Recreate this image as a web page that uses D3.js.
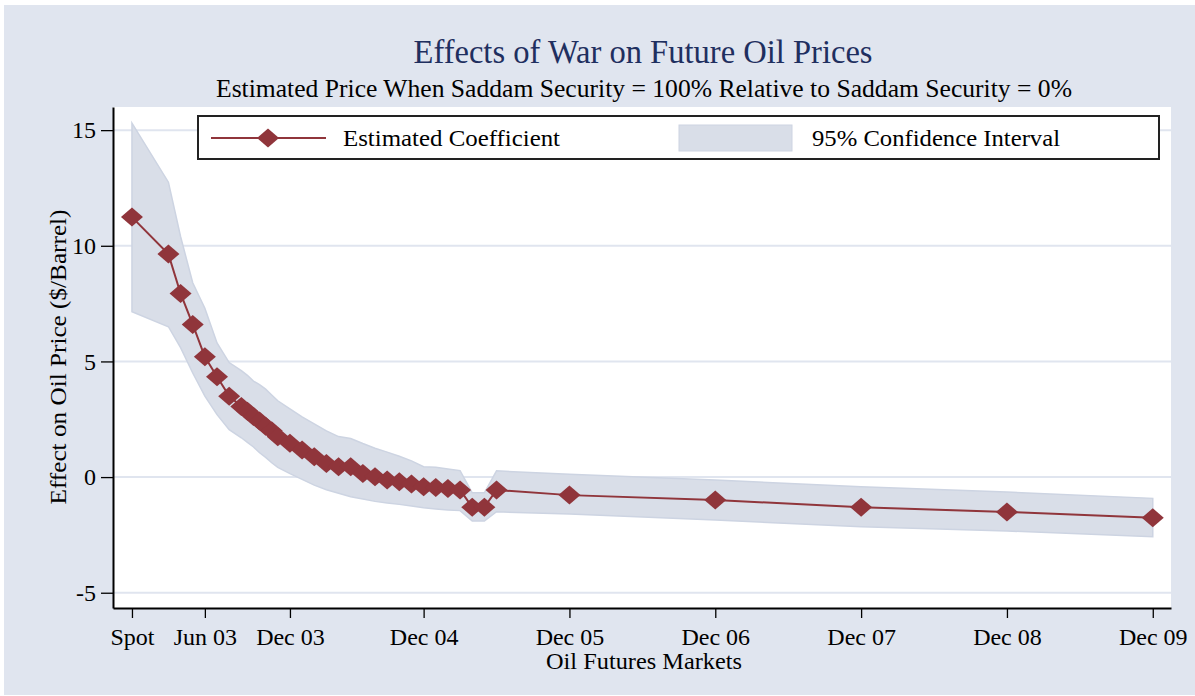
<!DOCTYPE html>
<html>
<head>
<meta charset="utf-8">
<script src="https://cdn.jsdelivr.net/npm/d3@7"></script>
<style>
  body { margin: 0; background: #fff; }
  svg text { font-family: "Liberation Serif", "Times New Roman", serif; }
</style>
</head>
<body>
<svg id="chart" width="1195" height="696"></svg>
<script>
// Section for Data

// months after spot (the x position of each futures contract)
var months = [0, 3, 4, 5, 6, 7, 8, 9, 9.5, 10, 10.5, 11, 11.5, 12, 13, 14, 15, 16, 17, 18,
    19, 20, 21, 22, 23, 24, 25, 26, 27, 28, 29, 30, 36, 48, 60, 72, 84];

var coef = [11.24, 9.64, 7.94, 6.6, 5.2, 4.34, 3.5, 3.05, 2.85, 2.62, 2.42, 2.2, 2.0, 1.74,
    1.46, 1.17, 0.88, 0.59, 0.45, 0.45, 0.16, 0.01, -0.13, -0.2, -0.3, -0.42, -0.45, -0.49,
    -0.56, -1.3, -1.3, -0.56, -0.78, -0.99, -1.3, -1.51, -1.76];

var upper = [15.3, 12.75, 10.4, 8.4, 7.3, 5.8, 4.95, 4.6, 4.4, 4.15, 4.0, 3.8, 3.55, 3.3,
    2.95, 2.6, 2.3, 2.0, 1.75, 1.67, 1.45, 1.25, 1.08, 0.9, 0.7, 0.45, 0.42, 0.35, 0.28,
    -0.68, -0.68, 0.27, 0.12, -0.13, -0.42, -0.65, -0.92];

var lower = [7.15, 6.5, 5.6, 4.5, 3.5, 2.7, 2.05, 1.7, 1.5, 1.3, 1.05, 0.85, 0.62, 0.42,
    0.15, -0.1, -0.35, -0.55, -0.7, -0.85, -0.95, -1.05, -1.12, -1.18, -1.25, -1.33, -1.38,
    -1.42, -1.45, -1.9, -1.9, -1.5, -1.6, -1.86, -2.15, -2.33, -2.58];

var tickMonths = [0, 6, 13, 24, 36, 48, 60, 72, 84];
var tickLabels = ["Spot", "Jun 03", "Dec 03", "Dec 04", "Dec 05", "Dec 06", "Dec 07", "Dec 08", "Dec 09"];
var yTicks = [-5, 0, 5, 10, 15];

var title = "Effects of War on Future Oil Prices";
var subtitle = "Estimated Price When Saddam Security = 100% Relative to Saddam Security = 0%";
var legendLabels = ["Estimated Coefficient", "95% Confidence Interval"];

// Section for layout and colours
var red = "#90353b";
var bandFill = "#d9dee8";
var bandLine = "#cdd4e2";
var bg = "#e0e5ef";

var plot = { left: 113, right: 1171, top: 107, bottom: 608 };

var x = d3.scaleLinear().domain([-1.56, 85.5]).range([plot.left, plot.right]);
var y = d3.scaleLinear().domain([-5.66, 16.0]).range([plot.bottom, plot.top]);

var rows = months.map(function (m, i) {
    return { m: m, v: coef[i], hi: upper[i], lo: lower[i] };
});

var svg = d3.select("#chart");

// graph region
svg.append("rect").attr("x", 4).attr("y", 5).attr("width", 1191).attr("height", 690).attr("fill", bg);
svg.append("rect")
    .attr("x", plot.left).attr("y", plot.top)
    .attr("width", plot.right - plot.left).attr("height", plot.bottom - plot.top)
    .attr("fill", "#fff");

// gridlines
svg.append("g").selectAll("line")
    .data(yTicks)
    .enter().append("line")
    .attr("x1", plot.left).attr("x2", plot.right)
    .attr("y1", function (d) { return y(d); })
    .attr("y2", function (d) { return y(d); })
    .attr("stroke", bg).attr("stroke-width", 2);

// confidence band
var area = d3.area()
    .x(function (d) { return x(d.m); })
    .y0(function (d) { return y(d.lo); })
    .y1(function (d) { return y(d.hi); });

svg.append("path")
    .datum(rows)
    .attr("d", area)
    .attr("fill", bandFill)
    .attr("stroke", bandLine)
    .attr("stroke-width", 1.5);

// coefficient line + diamonds
var line = d3.line()
    .x(function (d) { return x(d.m); })
    .y(function (d) { return y(d.v); });

svg.append("path")
    .datum(rows)
    .attr("d", line)
    .attr("fill", "none")
    .attr("stroke", red)
    .attr("stroke-width", 2);

var diamond = "M0,-9.5L11,0L0,9.5L-11,0Z";

svg.append("g").selectAll("path")
    .data(rows)
    .enter().append("path")
    .attr("d", diamond)
    .attr("transform", function (d) { return "translate(" + x(d.m) + "," + y(d.v) + ")"; })
    .attr("fill", red);

// axes
var yAxis = svg.append("g")
    .attr("transform", "translate(" + plot.left + ",0)")
    .call(d3.axisLeft(y).tickValues(yTicks).tickSize(12).tickSizeOuter(0).tickPadding(5)
        .tickFormat(function (d) { return String(d); }));   // plain hyphen for "-5"

var xAxis = svg.append("g")
    .attr("transform", "translate(0," + plot.bottom + ")")
    .call(d3.axisBottom(x).tickValues(tickMonths).tickSize(10).tickSizeOuter(0).tickPadding(10)
        .tickFormat(function (d, i) { return tickLabels[i]; }));

[yAxis, xAxis].forEach(function (g) {
    g.selectAll("text").attr("font-size", 24).attr("fill", "#000")
        .attr("font-family", "Liberation Serif, serif");
    g.selectAll("line").attr("stroke", "#000").attr("stroke-width", 1.3);
    g.select(".domain").attr("stroke", "#000").attr("stroke-width", 2);
});

// titles
svg.append("text")
    .attr("x", 643).attr("y", 63)
    .attr("text-anchor", "middle")
    .attr("font-size", 33)
    .attr("fill", "#1f2f5f")
    .attr("textLength", 459).attr("lengthAdjust", "spacingAndGlyphs")
    .text(title);

svg.append("text")
    .attr("x", 644).attr("y", 97)
    .attr("text-anchor", "middle")
    .attr("font-size", 25)
    .attr("fill", "#000")
    .attr("textLength", 856).attr("lengthAdjust", "spacingAndGlyphs")
    .text(subtitle);

svg.append("text")
    .attr("transform", "translate(66,357) rotate(-90)")
    .attr("text-anchor", "middle")
    .attr("font-size", 24)
    .attr("textLength", 295).attr("lengthAdjust", "spacingAndGlyphs")
    .text("Effect on Oil Price ($/Barrel)");

svg.append("text")
    .attr("x", 644).attr("y", 669)
    .attr("text-anchor", "middle")
    .attr("font-size", 24)
    .attr("textLength", 196).attr("lengthAdjust", "spacingAndGlyphs")
    .text("Oil Futures Markets");

// legend
var legend = svg.append("g");
legend.append("rect")
    .attr("x", 198).attr("y", 116).attr("width", 961).attr("height", 43)
    .attr("fill", "#fff").attr("stroke", "#222").attr("stroke-width", 2);

legend.append("line")
    .attr("x1", 211).attr("x2", 326).attr("y1", 138).attr("y2", 138)
    .attr("stroke", red).attr("stroke-width", 2);
legend.append("path")
    .attr("d", diamond)
    .attr("transform", "translate(268,138)")
    .attr("fill", red);
legend.append("text")
    .attr("x", 343).attr("y", 146)
    .attr("font-size", 24)
    .attr("textLength", 217).attr("lengthAdjust", "spacingAndGlyphs")
    .text(legendLabels[0]);

legend.append("rect")
    .attr("x", 679).attr("y", 125).attr("width", 113).attr("height", 26)
    .attr("fill", bandFill).attr("stroke", bandLine).attr("stroke-width", 1);
legend.append("text")
    .attr("x", 812).attr("y", 146)
    .attr("font-size", 24)
    .attr("textLength", 248).attr("lengthAdjust", "spacingAndGlyphs")
    .text(legendLabels[1]);
</script>
</body>
</html>
